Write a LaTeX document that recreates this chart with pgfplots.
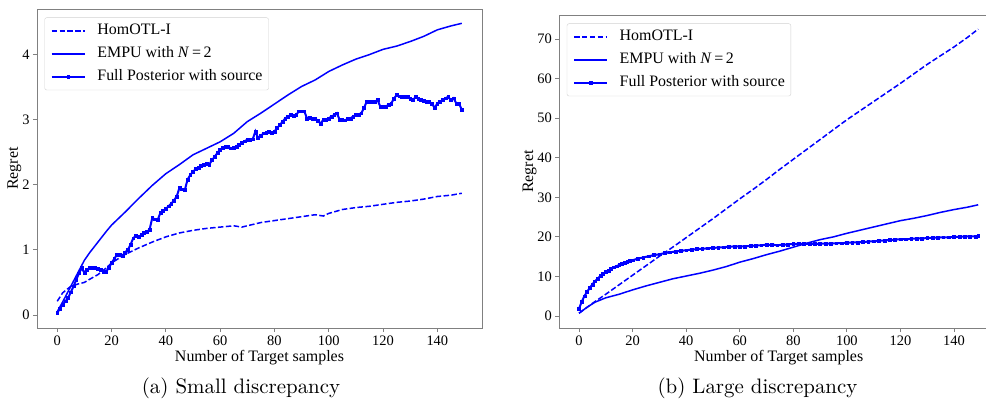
\documentclass[border=0pt]{standalone}
\usepackage{fontspec}
\usepackage{pgfplots}
\pgfplotsset{compat=1.18}
\newfontfamily\tnr{Liberation Serif}
\newfontfamily\lmten{lmroman10-regular}[Extension=.otf]
\definecolor{pblue}{rgb}{0,0,1}
\definecolor{frame}{rgb}{0.5,0.5,0.5}
\pgfplotsset{
  myaxis/.style={
    scale only axis,
    anchor=south west,
    axis line style={frame, line width=0.9bp},
    tick style={frame, line width=0.9bp},
    major tick length=4bp,
    tick align=outside,
    xtick pos=bottom, ytick pos=left,
    /pgf/number format/assume math mode=true,
    ticklabel style={font=\tnr\fontsize{14.5}{16}\selectfont},
    label style={font=\tnr\fontsize{16}{18}\selectfont},
    xlabel={Number of Target samples},
    ylabel={Regret},
    xlabel style={yshift=2bp},
    ylabel style={yshift=-6bp},
    xtick={0,20,...,140},
    legend cell align=left,
    legend style={
      at={(0,1)}, anchor=north west, xshift=7.5bp, yshift=-8.5bp,
      draw=black!18, rounded corners=2bp, fill=white,
      font=\tnr\fontsize{16}{18}\selectfont,
      nodes={inner sep=0pt, text height=11bp, text depth=3.5bp},
      inner xsep=6bp, inner ysep=6.2bp, row sep=8.2bp,
      /tikz/every odd column/.append style={column sep=11.7bp},
    },
    legend image code/.code={\draw[mark repeat=2,mark phase=2,##1] plot coordinates {(0bp,0bp) (16.5bp,0bp) (33bp,0bp)};},
  },
  homstyle/.style={pblue, line width=1.5bp, dash pattern=on 5.5bp off 2.4bp, no markers},
  empustyle/.style={pblue, line width=1.5bp, no markers},
  poststyle/.style={pblue, line width=2bp, mark=square*, mark size=1.4bp, mark options={solid, fill=pblue, line width=0.5bp}},
}
\begin{document}
\begin{tikzpicture}
\path[use as bounding box] (0,0) rectangle (986bp,401bp);
% ---------------- (a) ----------------
\begin{axis}[myaxis, at={(37bp,73bp)}, width=445bp, height=319bp,
  xmin=-7.45, xmax=156.45, ymin=-0.2, ymax=4.7, ytick={0,1,2,3,4}]
\addplot[homstyle] coordinates {(0,0.21)(2,0.34)(5,0.44)(8,0.48)(10,0.50)(12,0.55)(15,0.62)(18,0.72)(20,0.80)(25,0.93)(30,1.03)(35,1.12)(40,1.20)(45,1.26)(50,1.30)(55,1.33)(60,1.35)(65,1.37)(68,1.35)(70,1.37)(75,1.42)(80,1.45)(85,1.48)(90,1.51)(95,1.54)(98,1.52)(100,1.56)(105,1.62)(110,1.65)(115,1.67)(120,1.70)(125,1.73)(130,1.75)(135,1.78)(140,1.82)(145,1.84)(149,1.87)};
\addlegendentry{HomOTL-I}
\addplot[empustyle] coordinates {(0,0.05)(2,0.2)(4,0.36)(6,0.52)(8,0.68)(10,0.84)(12,0.96)(15,1.12)(18,1.28)(20,1.38)(25,1.58)(30,1.79)(35,1.99)(40,2.17)(45,2.31)(50,2.46)(55,2.56)(60,2.66)(65,2.79)(70,2.97)(75,3.10)(80,3.24)(85,3.38)(90,3.51)(95,3.61)(100,3.74)(105,3.84)(110,3.93)(115,4.00)(120,4.08)(125,4.13)(130,4.20)(135,4.28)(140,4.38)(145,4.44)(149,4.48)};
\addlegendentry{EMPU with \textit{N}\,=\,2}
\addplot[poststyle] coordinates {(0,0.03)(1,0.10)(2,0.16)(3,0.21)(4,0.26)(5,0.35)(6,0.44)(7,0.54)(8,0.64)(9,0.72)(10,0.65)(11,0.70)(12,0.72)(13,0.72)(14,0.72)(15,0.71)(16,0.69)(17,0.66)(18,0.67)(19,0.72)(20,0.80)(21,0.86)(22,0.93)(23,0.93)(24,0.91)(25,0.96)(26,1.00)(27,1.08)(28,1.18)(29,1.22)(30,1.20)(31,1.23)(32,1.26)(33,1.28)(34,1.31)(35,1.49)(36,1.47)(37,1.46)(38,1.57)(39,1.60)(40,1.63)(41,1.67)(42,1.71)(43,1.76)(44,1.82)(45,1.95)(46,1.93)(47,1.92)(48,2.08)(49,2.15)(50,2.20)(51,2.24)(52,2.26)(53,2.29)(54,2.31)(55,2.32)(56,2.31)(57,2.38)(58,2.43)(59,2.49)(60,2.54)(61,2.57)(62,2.59)(63,2.58)(64,2.56)(65,2.57)(66,2.59)(67,2.62)(68,2.64)(69,2.67)(70,2.69)(71,2.69)(72,2.70)(73,2.82)(74,2.72)(75,2.75)(76,2.79)(77,2.80)(78,2.82)(79,2.80)(80,2.82)(81,2.87)(82,2.92)(83,2.97)(84,3.02)(85,3.05)(86,3.07)(87,3.06)(88,3.07)(89,3.13)(90,3.13)(91,3.13)(92,3.02)(93,3.03)(94,3.02)(95,3.02)(96,2.98)(97,2.94)(98,3.00)(99,3.00)(100,3.02)(101,3.05)(102,3.07)(103,3.10)(104,3.00)(105,3.00)(106,2.99)(107,3.01)(108,3.02)(109,3.05)(110,3.07)(111,3.08)(112,3.10)(113,3.18)(114,3.28)(115,3.28)(116,3.28)(117,3.28)(118,3.30)(119,3.20)(120,3.20)(121,3.20)(122,3.23)(123,3.25)(124,3.32)(125,3.38)(126,3.36)(127,3.35)(128,3.35)(129,3.35)(130,3.32)(131,3.30)(132,3.35)(133,3.32)(134,3.30)(135,3.29)(136,3.28)(137,3.27)(138,3.25)(139,3.18)(140,3.25)(141,3.28)(142,3.30)(143,3.33)(144,3.35)(145,3.30)(146,3.33)(147,3.25)(148,3.25)(149,3.15)};
\addlegendentry{Full Posterior with source}
\end{axis}
% ---------------- (b) ----------------
\begin{axis}[myaxis, at={(559.3bp,73bp)}, width=438.8bp, height=313bp,
  xmin=-7.35, xmax=156.45, ymin=-3.03, ymax=76.07, ytick={0,10,...,70}]
\addplot[homstyle] coordinates {(0,0.7)(5,3.2)(10,5.5)(15,7.9)(20,10.3)(25,12.7)(30,15.1)(35,17.4)(40,19.8)(45,22.2)(50,24.6)(55,27.1)(60,29.6)(65,32.0)(70,34.5)(75,37.1)(80,39.6)(85,42.1)(90,44.6)(95,47.1)(100,49.6)(105,51.9)(110,54.2)(115,56.5)(120,58.8)(125,61.2)(130,63.6)(135,65.8)(140,68.0)(145,70.4)(149,72.5)};
\addlegendentry{HomOTL-I}
\addplot[empustyle] coordinates {(0,0.7)(3,2.2)(6,3.5)(10,4.6)(15,5.5)(20,6.6)(25,7.6)(30,8.5)(35,9.4)(40,10.1)(45,10.8)(50,11.6)(55,12.5)(60,13.6)(65,14.5)(70,15.5)(75,16.4)(80,17.4)(85,18.4)(90,19.3)(95,20.0)(100,20.9)(105,21.7)(110,22.5)(115,23.3)(120,24.1)(125,24.7)(130,25.4)(135,26.2)(140,26.9)(145,27.5)(149,28.1)};
\addlegendentry{EMPU with \textit{N}\,=\,2}
\addplot[poststyle] coordinates {(0,1.8)(1,3.6)(2,5.0)(3,6.1)(4,7.1)(5,8.0)(6,8.8)(7,9.5)(8,10.1)(9,10.6)(10,11.1)(11,11.5)(12,11.9)(13,12.3)(14,12.6)(15,12.9)(16,13.2)(17,13.5)(18,13.7)(19,13.9)(20,14.1)(22,14.5)(24,14.8)(26,15.1)(28,15.4)(30,15.6)(32,15.9)(34,16.1)(36,16.3)(38,16.5)(40,16.6)(42,16.8)(44,16.9)(46,17.0)(48,17.1)(50,17.2)(52,17.3)(54,17.4)(56,17.5)(58,17.6)(60,17.6)(62,17.6)(64,17.7)(66,17.8)(68,17.9)(70,18.0)(72,18.0)(74,17.9)(76,18.0)(78,18.1)(80,18.2)(82,18.2)(84,18.3)(86,18.2)(88,18.2)(90,18.3)(92,18.3)(94,18.3)(96,18.4)(98,18.4)(100,18.5)(102,18.6)(104,18.6)(106,18.7)(108,18.8)(110,18.9)(112,19.0)(114,19.1)(116,19.2)(118,19.3)(120,19.4)(122,19.4)(124,19.5)(126,19.6)(128,19.6)(130,19.7)(132,19.8)(134,19.8)(136,19.9)(138,19.9)(140,20.0)(142,20.0)(144,20.1)(146,20.1)(148,20.1)(149,20.2)};
\addlegendentry{Full Posterior with source}
\end{axis}
\node at (241bp,13bp) {\lmten\fontsize{21}{24}\selectfont (a)\ Small discrepancy};
\node at (757.5bp,13bp) {\lmten\fontsize{21}{24}\selectfont (b)\ Large discrepancy};
\end{tikzpicture}
\end{document}
